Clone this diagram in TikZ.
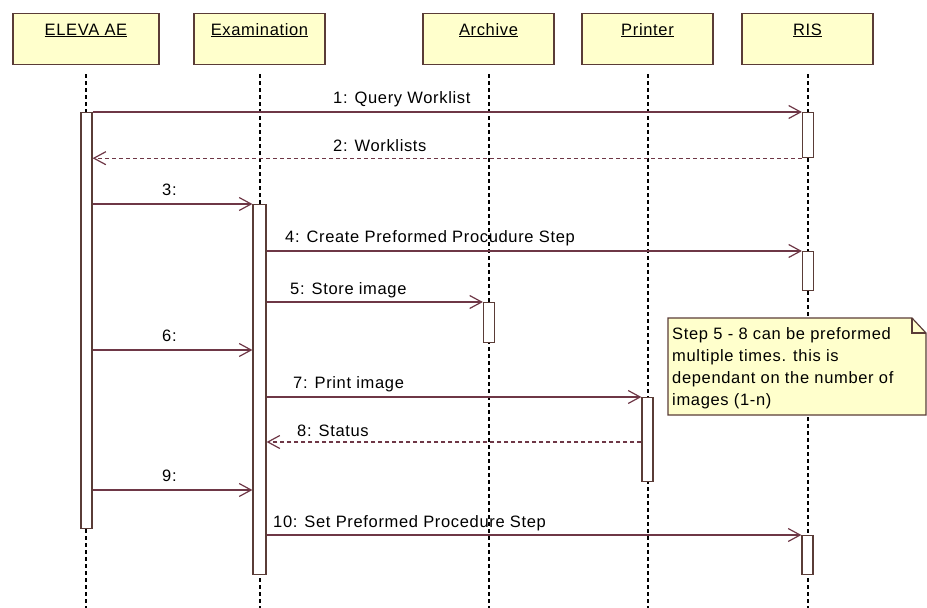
\documentclass[tikz,border=0pt]{standalone}
\usepackage{fontspec}
\setmainfont{Liberation Sans}[LetterSpace=4]
\usetikzlibrary{arrows.meta}
\definecolor{hdfill}{RGB}{255,255,204}
\definecolor{edgec}{RGB}{90,60,55}
\definecolor{msgc}{RGB}{110,55,70}
\begin{document}
\begin{tikzpicture}[x=1pt,y=-1pt,
  font=\fontsize{16.5}{22}\selectfont,
  head/.style={draw=edgec, fill=hdfill, line width=1.2pt, minimum height=51pt, inner sep=0, anchor=north},
  htext/.style={anchor=base, inner sep=0},
  life/.style={draw=black, line width=1.3pt, dash pattern=on 4pt off 3pt},
  act/.style={draw=edgec, fill=white, line width=1.2pt, minimum width=11pt, inner sep=0, anchor=north},
  msg/.style={draw=msgc, line width=1.2pt, -{Straight Barb[length=12pt,width=13pt]}},
  ret/.style={msg, dash pattern=on 4pt off 3pt},
  lbl/.style={anchor=base west, inner sep=0},
  notebox/.style={draw=edgec, fill=hdfill, line width=1.2pt},
]
\useasboundingbox (0,0) rectangle (927,608);

% heads
\node[head, minimum width=146pt] (hE) at (86,13) {};
\node[head, minimum width=131pt] (hX) at (259.5,13) {};
\node[head, minimum width=131pt] (hA) at (488.5,13) {};
\node[head, minimum width=131pt] (hP) at (647.5,13) {};
\node[head, minimum width=131pt] (hR) at (807.5,13) {};
\node[htext] (tE) at (86,35) {\underline{ELEVA AE}};
\node[htext] (tX) at (259.5,35) {\underline{Examination}};
\node[htext] (tA) at (488.5,35) {\underline{Archive}};
\node[htext] (tP) at (647.5,35) {\underline{Printer}};
\node[htext] (tR) at (807.5,35) {\underline{RIS}};

% lifelines
\foreach \n/\x in {E/86,X/260,A/489,P/648,R/808}{
  \coordinate (ls\n) at (\x,74);
  \coordinate (le\n) at (\x,608);
  \draw[life] (ls\n) -- (le\n);
}

% activations
\node[act, minimum height=416pt] (aE) at (86.5,112) {};
\node[act, minimum height=370pt, minimum width=13pt] (aX) at (259.5,204) {};
\node[act, minimum height=45pt] (aR1) at (808,112) {};
\node[act, minimum height=39pt] (aR2) at (808,251) {};
\node[act, minimum height=40pt] (aA) at (489,302) {};
\node[act, minimum height=84pt] (aP) at (647.5,397) {};
\node[act, minimum height=39pt] (aR3) at (807.5,535) {};

\coordinate (y6) at (0,350);
\coordinate (y8) at (0,442);
\coordinate (y9) at (0,490);

% messages
\draw[msg] (aE.east |- aR1.north) -- (aR1.north west);
\draw[ret] (aR1.south west) -- (aE.east |- aR1.south);
\draw[msg] (aE.east |- aX.north) -- (aX.north west);
\draw[msg] (aX.east |- aR2.north) -- (aR2.north west);
\draw[msg] (aX.east |- aA.north) -- (aA.north west);
\draw[msg] (aE.east |- y6) -- (aX.west |- y6);
\draw[msg] (aX.east |- aP.north) -- (aP.north west);
\draw[ret] (aP.west |- y8) -- (aX.east |- y8);
\draw[msg] (aE.east |- y9) -- (aX.west |- y9);
\draw[msg] (aX.east |- aR3.north) -- (aR3.north west);

% labels
\node[lbl] (m1) at (333,103) {1: Query Worklist};
\node[lbl] (m2) at (333,151) {2: Worklists};
\node[lbl] (m3) at (162,195) {3:};
\node[lbl] (m4) at (285,242) {4: Create Preformed Procudure Step};
\node[lbl] (m5) at (290,294) {5: Store image};
\node[lbl] (m6) at (162,341) {6:};
\node[lbl] (m7) at (293,388) {7: Print image};
\node[lbl] (m8) at (297,436) {8: Status};
\node[lbl] (m9) at (162,481) {9:};
\node[lbl] (m10) at (273,527) {10: Set Preformed Procedure Step};

% note
\coordinate (n1) at (668,318);
\coordinate (n2) at (912,318);
\coordinate (n3) at (926,333);
\coordinate (n4) at (926,415);
\coordinate (n5) at (668,415);
\draw[notebox] (n1) -- (n2) -- (n3) -- (n4) -- (n5) -- cycle;
\draw[draw=edgec, line width=1.2pt] (n2) -- (n2 |- n3) -- (n3);
\node[anchor=north west, inner sep=0, align=left] (note) at (672,327)
  {Step 5 - 8 can be preformed\\multiple times. this is\\dependant on the number of\\images (1-n)};
\end{tikzpicture}
\end{document}
